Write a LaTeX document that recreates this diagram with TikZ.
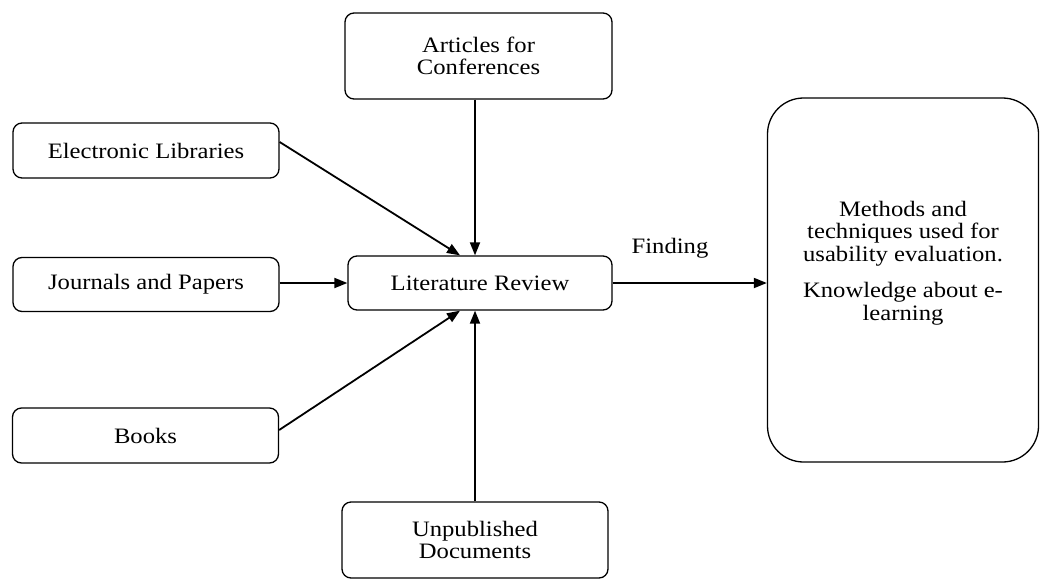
\documentclass[tikz,border=0pt]{standalone}
\usepackage{fontspec}
\setmainfont{Liberation Serif}[FakeStretch=1.12]
\usetikzlibrary{arrows.meta}
\begin{document}
\begin{tikzpicture}[x=1pt,y=-1pt,
  txt/.style={align=center, inner sep=0pt, font=\fontsize{22}{22.5}\selectfont},
  box/.style={txt, draw, line width=1.3pt, rounded corners=9pt},
  arr/.style={line width=1.8pt, -{Triangle[length=13pt,width=10pt]}}]
\useasboundingbox (0,0) rectangle (1040,581);
\node[box, minimum width=267pt, minimum height=86pt] (art) at (478.5,56) {Articles for\\Conferences};
\node[box, minimum width=266pt, minimum height=55pt] (el) at (146,150.5) {Electronic Libraries};
\node[box, minimum width=266pt, minimum height=54pt] (jp) at (146,284.5) {Journals and Papers};
\node[box, minimum width=264pt, minimum height=54pt] (lr) at (480,283) {Literature Review};
\node[box, minimum width=266pt, minimum height=55pt] (bk) at (145.5,435.5) {Books};
\node[box, minimum width=266pt, minimum height=76pt] (un) at (475,540) {Unpublished\\Documents};
\node[box, rounded corners=36pt, minimum width=271pt, minimum height=364pt] (me) at (903,280) {};
\node[txt] (metx) at (903,263)
  {Methods and\\techniques used for\\usability evaluation.\\[14pt]Knowledge about e-\\learning};
\node[txt] (fd) at (670,248) {Finding};
\draw[arr] (art.south -| un.north) -- (un.north |- lr.north);
\draw[arr] ([yshift=8.5pt]el.east) -- ([xshift=-20pt]lr.north);
\draw[arr] (jp.east |- lr.west) -- (lr.west);
\draw[arr] ([yshift=5.5pt]bk.east) -- ([xshift=-20pt]lr.south);
\draw[arr] (un.north) -- (un.north |- lr.south);
\draw[arr] (lr.east) -- (lr.east -| me.west);
\end{tikzpicture}
\end{document}
